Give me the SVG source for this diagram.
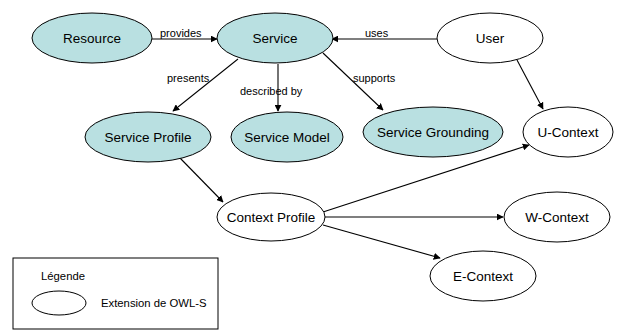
<svg xmlns="http://www.w3.org/2000/svg" width="618" height="331" viewBox="0 0 618 331">
<style>
.n ellipse{stroke:#000;stroke-width:1}
.f ellipse{fill:#b9e0e1}
.w ellipse{fill:#fff}
text{font-family:"Liberation Sans",Arial,sans-serif;fill:#000}
.t{font-size:13.5px;text-anchor:middle}
.l{font-size:11px}
.e line{stroke:#000;stroke-width:1.1;marker-end:url(#a)}
</style>
<defs>
<marker id="a" viewBox="0 0 10 10" refX="9" refY="5" markerWidth="7" markerHeight="7" orient="auto" markerUnits="userSpaceOnUse">
<path d="M0,0 L10,5 L0,10 z" fill="#000"/>
</marker>
</defs>
<rect width="618" height="331" fill="#fff"/>
<g id="connectors" class="e">
<line x1="152" y1="39" x2="217" y2="39"/>
<line x1="437" y1="39" x2="332" y2="39"/>
<line x1="238" y1="59" x2="173" y2="111"/>
<line x1="278" y1="64" x2="278" y2="111"/>
<line x1="323" y1="53" x2="383" y2="110"/>
<line x1="517" y1="60" x2="543" y2="109"/>
<line x1="180" y1="158" x2="223" y2="202"/>
<line x1="323" y1="212" x2="529" y2="145"/>
<line x1="325" y1="217" x2="503" y2="217"/>
<line x1="323" y1="225" x2="440" y2="258"/>
</g>
<g id="edge-labels" class="l">
<text x="160" y="37">provides</text>
<text x="365" y="37">uses</text>
<text x="167" y="82">presents</text>
<text x="240" y="95">described by</text>
<text x="353" y="82">supports</text>
</g>
<g id="resource" class="n f"><ellipse cx="92" cy="38" rx="60" ry="25"/><text class="t" x="92" y="43">Resource</text></g>
<g id="service" class="n f"><ellipse cx="275" cy="38" rx="58" ry="25"/><text class="t" x="275" y="43">Service</text></g>
<g id="user" class="n w"><ellipse cx="490" cy="38" rx="53" ry="25"/><text class="t" x="490" y="43">User</text></g>
<g id="service-profile" class="n f"><ellipse cx="148" cy="137" rx="63" ry="25"/><text class="t" x="148" y="142">Service Profile</text></g>
<g id="service-model" class="n f"><ellipse cx="287" cy="137" rx="56" ry="25"/><text class="t" x="287" y="142">Service Model</text></g>
<g id="service-grounding" class="n f"><ellipse cx="433" cy="132" rx="70" ry="25"/><text class="t" x="433" y="137">Service Grounding</text></g>
<g id="u-context" class="n w"><ellipse cx="568" cy="132" rx="45" ry="25"/><text class="t" x="568" y="137">U-Context</text></g>
<g id="context-profile" class="n w"><ellipse cx="271" cy="217" rx="54" ry="24"/><text class="t" x="271" y="222">Context Profile</text></g>
<g id="w-context" class="n w"><ellipse cx="557" cy="217" rx="53" ry="25"/><text class="t" x="557" y="222">W-Context</text></g>
<g id="e-context" class="n w"><ellipse cx="483" cy="276" rx="53" ry="25"/><text class="t" x="483" y="281">E-Context</text></g>
<g id="legend">
<rect x="13" y="258" width="205" height="71" fill="#fff" stroke="#000" stroke-width="1"/>
<text class="l" x="41" y="280" style="font-size:11.3px">Légende</text>
<ellipse cx="59" cy="303" rx="27" ry="12" fill="#fff" stroke="#000" stroke-width="1"/>
<text class="l" x="101" y="307" style="font-size:11.3px">Extension de OWL-S</text>
</g>
</svg>
